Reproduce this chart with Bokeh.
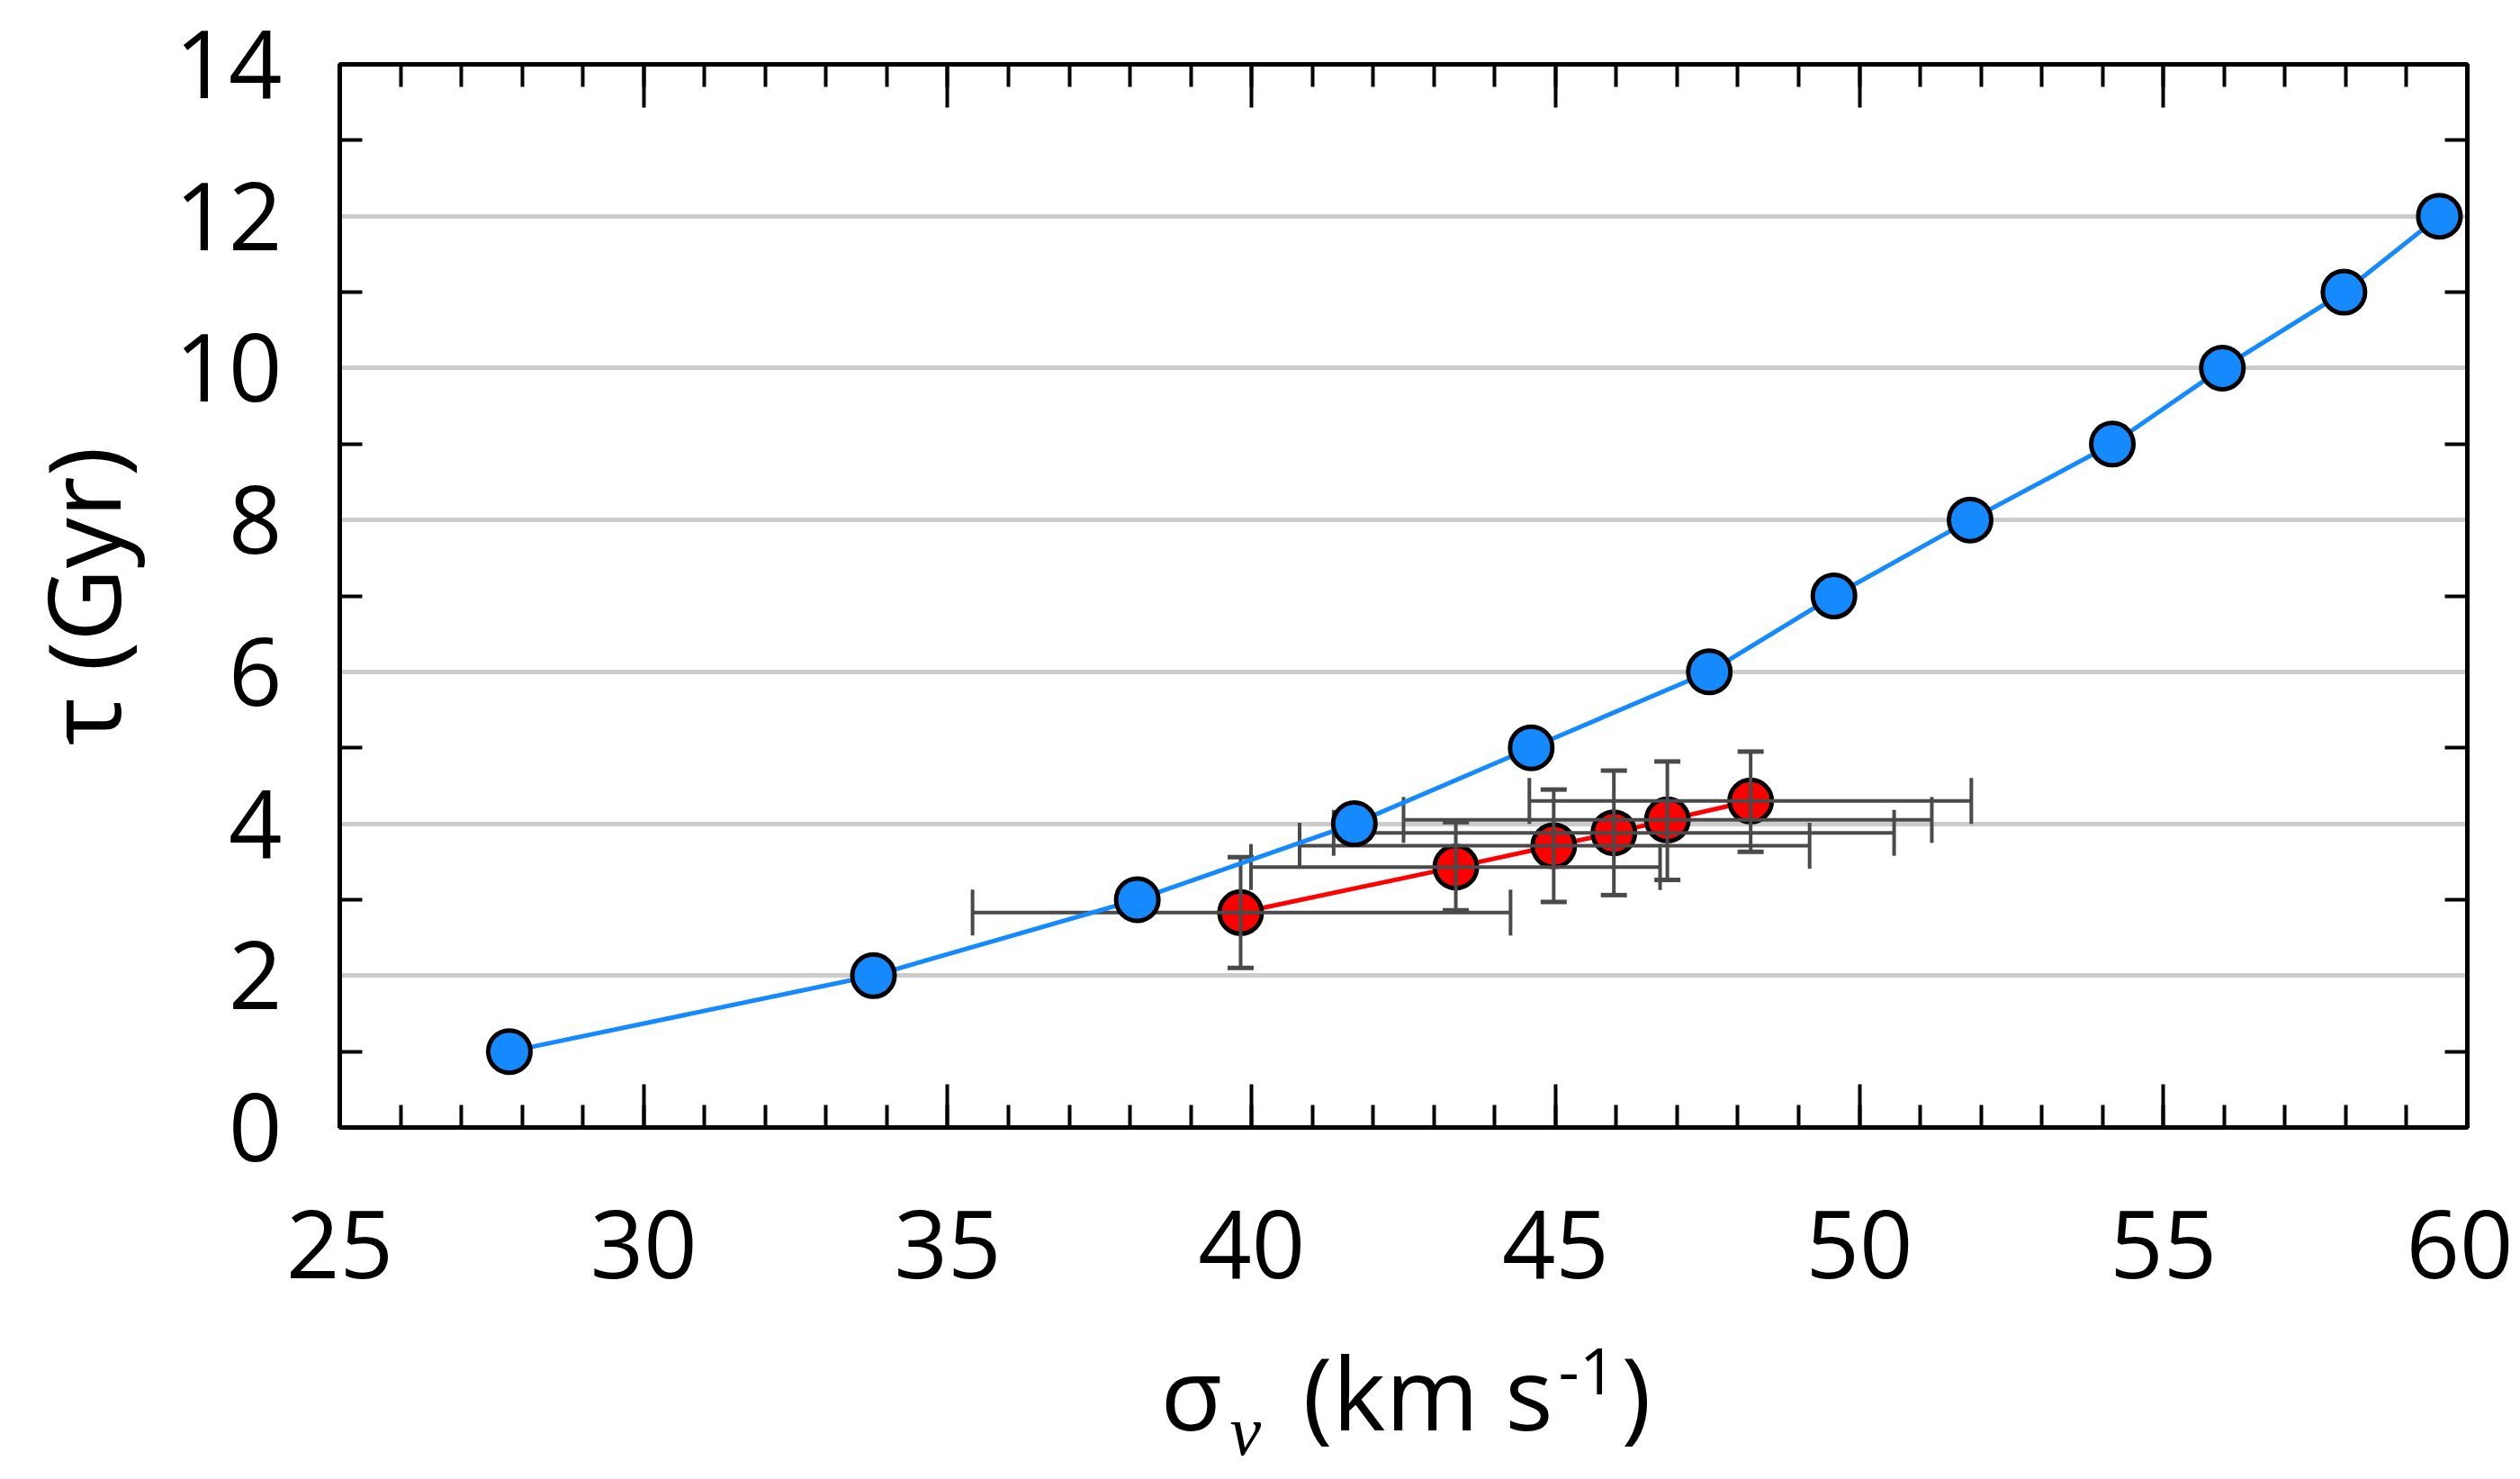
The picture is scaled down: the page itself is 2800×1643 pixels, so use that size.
import math
from bokeh.plotting import figure
from bokeh.layouts import column
from bokeh.models import Range1d, FixedTicker, LinearAxis, Label
from bokeh.embed import file_html
from bokeh.resources import INLINE

# ---- data ----
model_sigma = [27.79, 33.78, 38.12, 41.69, 44.60, 47.53, 49.58, 51.82, 54.16, 55.97, 57.97, 59.54]
model_tau = [1, 2, 3, 4, 5, 6, 7, 8, 9, 10, 11, 12]

obs_sigma = [39.82, 43.36, 44.97, 45.96, 46.84, 48.21]
obs_tau = [2.83, 3.43, 3.71, 3.88, 4.05, 4.30]
obs_sigma_lo = [35.41, 39.99, 40.79, 41.35, 42.50, 44.57]
obs_sigma_hi = [44.26, 46.72, 49.18, 50.57, 51.19, 51.84]
obs_tau_lo = [2.10, 2.86, 2.97, 3.06, 3.26, 3.63]
obs_tau_hi = [3.56, 4.02, 4.45, 4.70, 4.82, 4.95]

x_major = [25, 30, 35, 40, 45, 50, 55, 60]
x_minor = list(range(25, 61))
y_major = [0, 2, 4, 6, 8, 10, 12, 14]
y_minor = [1, 3, 5, 7, 9, 11, 13]
grid_levels = [2, 4, 6, 8, 10, 12]

y_title = "τ (Gyr)"

FONT = "Open Sans"
BLUE = "#158AFF"
RED = "#FF0000"
ERR = "#4A4A4A"

LEFT, RIGHT, TOP = 377, 51, 71
W, H1, H2 = 2792, 1470, 165
p = figure(width=W, height=H1, x_range=Range1d(25, 60), y_range=Range1d(0, 14),
           output_backend="svg", toolbar_location=None,
           min_border_left=LEFT, min_border_right=RIGHT, min_border_top=TOP, min_border_bottom=218)
p.background_fill_color = "white"
p.border_fill_color = "white"
p.outline_line_color = "black"
p.outline_line_width = 5

# grid
p.xgrid.visible = False
p.ygrid.ticker = FixedTicker(ticks=grid_levels)
p.ygrid.grid_line_color = "#CCCCCC"
p.ygrid.grid_line_width = 5

# bottom axis
xa = p.xaxis[0]
xa.ticker = FixedTicker(ticks=x_major, minor_ticks=x_minor)
xa.axis_line_width = 5
xa.major_tick_in = 48
xa.major_tick_out = 0
xa.minor_tick_in = 25
xa.minor_tick_out = 0
xa.major_tick_line_width = 4
xa.minor_tick_line_width = 4
xa.major_label_text_font = FONT
xa.major_label_text_font_size = "104px"
xa.major_label_text_color = "black"
xa.major_label_standoff = 92

# left axis
ya = p.yaxis[0]
ya.ticker = FixedTicker(ticks=y_major, minor_ticks=y_minor)
ya.axis_line_width = 5
ya.major_tick_in = 0
ya.major_tick_out = 0
ya.minor_tick_in = 25
ya.minor_tick_out = 0
ya.minor_tick_line_width = 4
ya.major_label_text_font = FONT
ya.major_label_text_font_size = "104px"
ya.major_label_text_color = "black"
ya.major_label_standoff = 64
ya.axis_label = y_title
ya.axis_label_text_font = FONT
ya.axis_label_text_font_size = "112px"
ya.axis_label_text_font_style = "normal"
ya.axis_label_text_color = "black"
ya.axis_label_standoff = 25


def tick_only_axis(minor, length):
    ax = LinearAxis(ticker=FixedTicker(ticks=[], minor_ticks=minor))
    ax.axis_line_width = 5
    ax.major_tick_in = 0
    ax.major_tick_out = 0
    ax.minor_tick_in = length
    ax.minor_tick_out = 0
    ax.minor_tick_line_width = 4
    ax.major_label_standoff = 0
    return ax


# right axis (ticks only)
p.add_layout(tick_only_axis(y_minor, 25), "right")
# top axis (ticks only): short ticks every unit, long ticks at majors
p.add_layout(tick_only_axis(x_minor, 25), "above")
p.add_layout(tick_only_axis(x_major, 48), "above")

# observed series (red) with error bars
p.line(obs_sigma, obs_tau, line_color=RED, line_width=5)
p.scatter(obs_sigma, obs_tau, size=47, fill_color=RED, line_color="black", line_width=5)

p.segment(x0=obs_sigma_lo, y0=obs_tau, x1=obs_sigma_hi, y1=obs_tau, line_color=ERR, line_width=4)
p.segment(x0=obs_sigma, y0=obs_tau_lo, x1=obs_sigma, y1=obs_tau_hi, line_color=ERR, line_width=4)
p.scatter(obs_sigma_lo + obs_sigma_hi, obs_tau + obs_tau, marker="dash", size=51, angle=math.pi / 2,
          line_color=ERR, line_width=4)
p.scatter(obs_sigma + obs_sigma, obs_tau_lo + obs_tau_hi, marker="dash", size=29,
          line_color=ERR, line_width=5)

# model series (blue)
p.line(model_sigma, model_tau, line_color=BLUE, line_width=5)
p.scatter(model_sigma, model_tau, size=47, fill_color=BLUE, line_color="black", line_width=5)

# x-axis title strip; its frame is aligned with the main frame by the column layout,
# so its x range is expressed in page pixels spanning that frame
t = figure(width=W, height=H2, x_range=Range1d(LEFT, W - RIGHT), y_range=Range1d(0, H2),
           output_backend="svg", toolbar_location=None, min_border=0,
           min_border_left=LEFT, min_border_right=RIGHT,
           x_axis_type=None, y_axis_type=None)
t.grid.visible = False
t.outline_line_color = None
t.background_fill_color = "white"
t.border_fill_color = "white"

TITLE = "112px"


def lab(text, x, y, size=TITLE, font=FONT, style="normal"):
    t.add_layout(Label(x=x, y=y, text=text, text_align="left", text_baseline="alphabetic",
                       text_font=font, text_font_style=style, text_font_size=size,
                       text_color="black"))


lab("σ", 1289, 90)
lab("ν", 1366, 46, size="78px", font="Liberation Serif", style="italic")
lab("(km s", 1447, 90)
lab("-1", 1731, 113, size="72px")
lab(")", 1801, 90)

layout = column(p, t, spacing=0)
open("out.html", "w").write(file_html(layout, INLINE))
